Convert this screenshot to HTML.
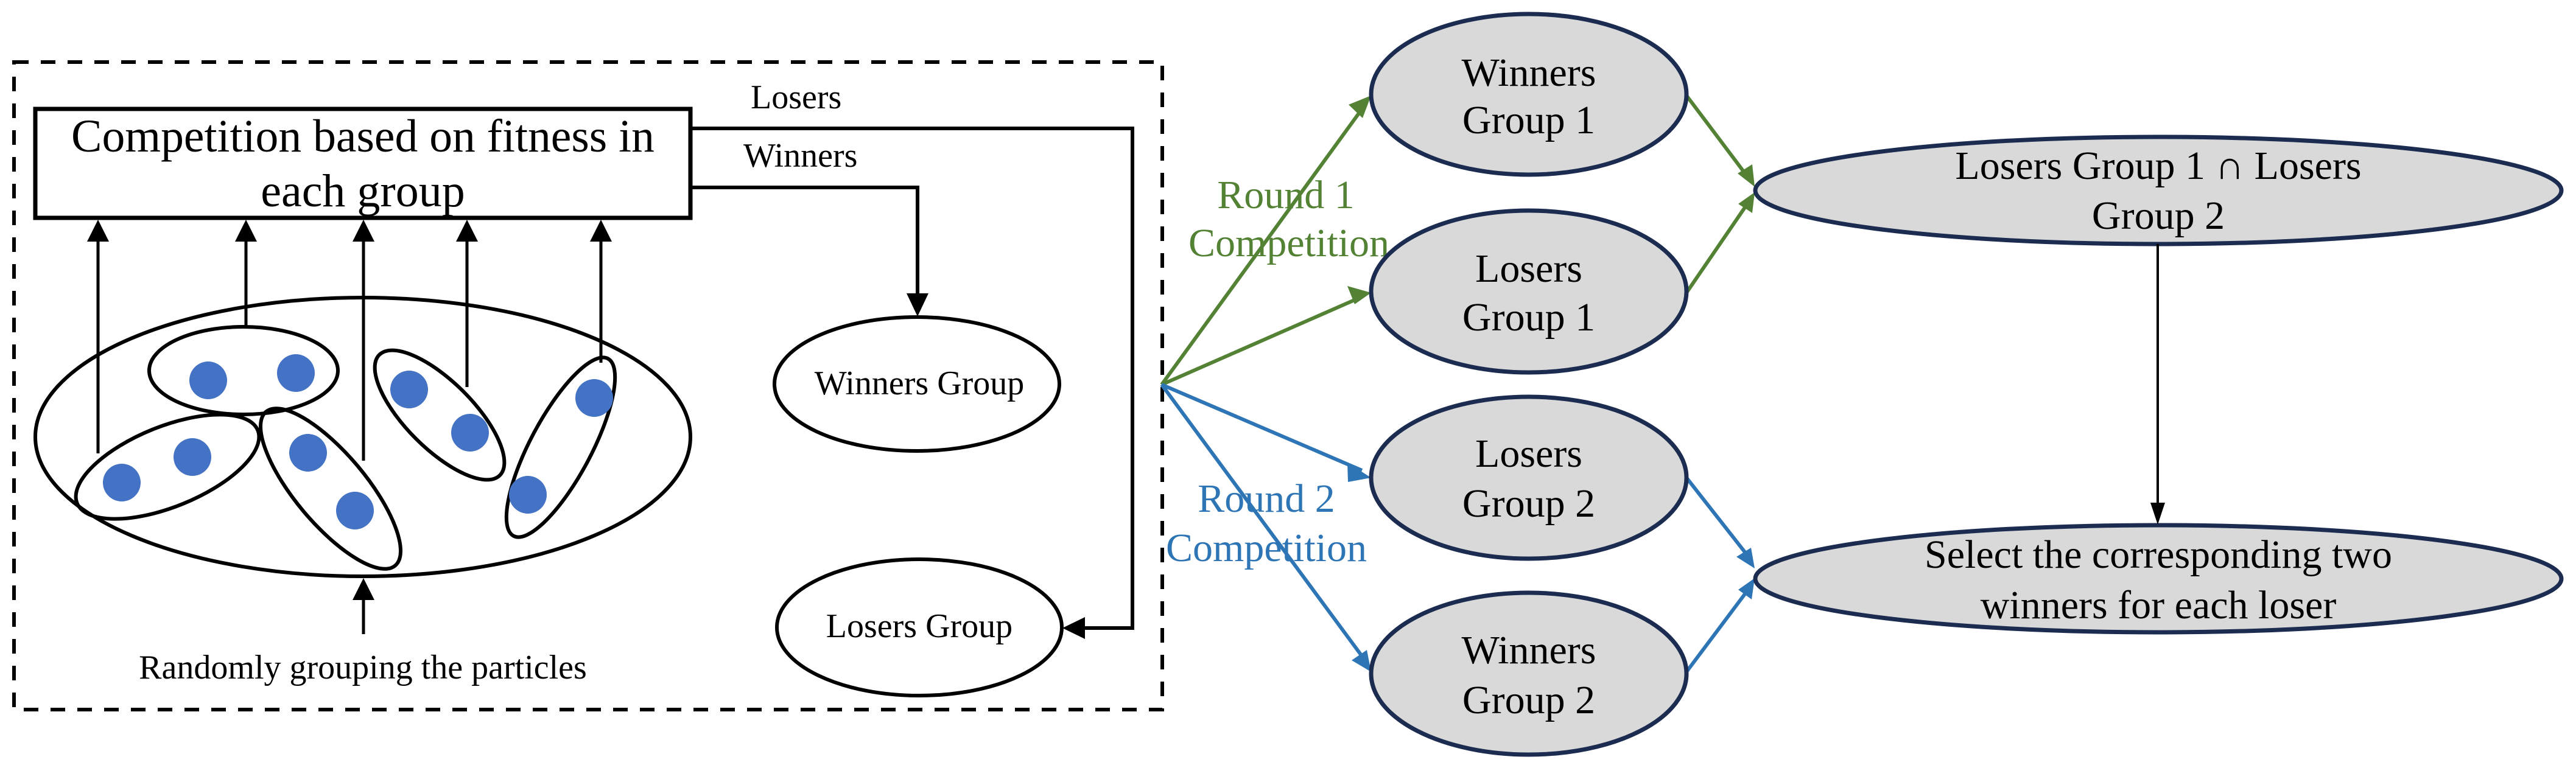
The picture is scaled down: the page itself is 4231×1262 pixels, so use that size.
<!DOCTYPE html>
<html><head><meta charset="utf-8"><style>html,body{margin:0;padding:0;background:#fff}svg{display:block}</style></head><body>
<svg width="4231" height="1262" viewBox="0 0 4231 1262" xmlns="http://www.w3.org/2000/svg" font-family="'Liberation Serif', serif">
<rect x="0" y="0" width="4231" height="1262" fill="#fff"/>
<!-- dashed box -->
<rect x="23" y="102" width="1886" height="1064" fill="none" stroke="#000" stroke-width="6" stroke-dasharray="24 20"/>
<!-- competition box -->
<rect x="58" y="179" width="1076" height="179" fill="#fff" stroke="#000" stroke-width="7"/>
<text x="596" y="249" font-size="76" text-anchor="middle" textLength="958" lengthAdjust="spacingAndGlyphs">Competition based on fitness in</text>
<text x="596" y="339" font-size="76" text-anchor="middle">each group</text>
<!-- Losers line -->
<polyline points="1134,211 1860,211 1860,1032 1780,1032" fill="none" stroke="#000" stroke-width="6"/>
<polygon points="1745,1032 1782,1014 1782,1050" fill="#000"/>
<text x="1233" y="178" font-size="56">Losers</text>
<!-- Winners line -->
<polyline points="1134,308 1507,308 1507,485" fill="none" stroke="#000" stroke-width="6"/>
<polygon points="1507,520 1489,482 1525,482" fill="#000"/>
<text x="1221" y="274" font-size="56">Winners</text>
<!-- output ellipses -->
<ellipse cx="1506" cy="631" rx="234" ry="110" fill="#fff" stroke="#000" stroke-width="6"/>
<text x="1510" y="648" font-size="56" text-anchor="middle">Winners Group</text>
<ellipse cx="1510" cy="1031" rx="234" ry="112" fill="#fff" stroke="#000" stroke-width="6"/>
<text x="1510" y="1047" font-size="56" text-anchor="middle">Losers Group</text>
<!-- big ellipse -->
<ellipse cx="596" cy="718" rx="538" ry="229" fill="#fff" stroke="#000" stroke-width="6"/>
<!-- small groups -->
<g fill="none" stroke="#000" stroke-width="6">
<ellipse cx="400" cy="609" rx="155" ry="72"/>
<ellipse cx="275" cy="767" rx="160" ry="66" transform="rotate(-22 275 767)"/>
<ellipse cx="543" cy="803" rx="165" ry="58" transform="rotate(50 543 803)"/>
<ellipse cx="722" cy="682" rx="140" ry="55" transform="rotate(45 722 682)"/>
<ellipse cx="921" cy="735" rx="165" ry="50" transform="rotate(-62 921 735)"/>
</g>
<g fill="#4472c4">
<ellipse cx="342" cy="625" rx="31" ry="31"/>
<ellipse cx="486" cy="613" rx="31" ry="31"/>
<ellipse cx="200" cy="793" rx="31" ry="31"/>
<ellipse cx="316" cy="751" rx="31" ry="31"/>
<ellipse cx="506" cy="744" rx="31" ry="31"/>
<ellipse cx="583" cy="839" rx="31" ry="31"/>
<ellipse cx="672" cy="640" rx="31" ry="31"/>
<ellipse cx="772" cy="711" rx="31" ry="31"/>
<ellipse cx="976" cy="654" rx="31" ry="31"/>
<ellipse cx="867" cy="813" rx="31" ry="31"/>
</g>
<!-- up arrows -->
<g stroke="#000" stroke-width="5">
<line x1="161" y1="745" x2="161" y2="390"/>
<line x1="404" y1="538" x2="404" y2="390"/>
<line x1="597" y1="757" x2="597" y2="390"/>
<line x1="767" y1="636" x2="767" y2="390"/>
<line x1="987" y1="596" x2="987" y2="390"/>
<line x1="597" y1="1042" x2="597" y2="980"/>
</g>
<g fill="#000">
<polygon points="161,361 143,397 179,397"/>
<polygon points="404,361 386,397 422,397"/>
<polygon points="597,361 579,397 615,397"/>
<polygon points="767,361 749,397 785,397"/>
<polygon points="987,361 969,397 1005,397"/>
<polygon points="597,950 579,986 615,986"/>
</g>
<text x="596" y="1115" font-size="56" text-anchor="middle">Randomly grouping the particles</text>

<!-- right side connectors -->
<g stroke="#548235" stroke-width="6" fill="none">
<line x1="1908" y1="632" x2="2240" y2="175"/>
<line x1="1908" y1="632" x2="2236" y2="488"/>
<line x1="2770" y1="157" x2="2870" y2="290"/>
<line x1="2770" y1="481" x2="2872" y2="332"/>
</g>
<g fill="#548235">
<polygon points="2252,157 2215,172 2238,194"/>
<polygon points="2252,481 2213,470 2225,500"/>
<polygon points="2882,307 2854,285 2878,270"/>
<polygon points="2882,316 2878,350 2855,335"/>
</g>
<g stroke="#2e75b6" stroke-width="6" fill="none">
<line x1="1908" y1="632" x2="2237" y2="773"/>
<line x1="1908" y1="632" x2="2242" y2="1085"/>
<line x1="2770" y1="785" x2="2872" y2="915"/>
<line x1="2770" y1="1104" x2="2872" y2="968"/>
</g>
<g fill="#2e75b6">
<polygon points="2252,785 2213,760 2214,792"/>
<polygon points="2252,1104 2220,1085 2245,1068"/>
<polygon points="2882,934 2852,915 2876,900"/>
<polygon points="2882,950 2877,985 2855,969"/>
</g>
<text x="2112" y="342" font-size="66" fill="#548235" text-anchor="middle">Round 1</text>
<text x="2117" y="421" font-size="66" fill="#548235" text-anchor="middle">Competition</text>
<text x="2080" y="841" font-size="66" fill="#2e75b6" text-anchor="middle">Round 2</text>
<text x="2080" y="922" font-size="66" fill="#2e75b6" text-anchor="middle">Competition</text>

<!-- right circles -->
<g fill="#d9d9d9" stroke="#1b2c50" stroke-width="7">
<ellipse cx="2511" cy="155" rx="259" ry="132"/>
<ellipse cx="2511" cy="479" rx="259" ry="133"/>
<ellipse cx="2511" cy="785" rx="259" ry="133"/>
<ellipse cx="2511" cy="1107" rx="259" ry="133"/>
<ellipse cx="3545" cy="313" rx="662" ry="88"/>
<ellipse cx="3545" cy="951" rx="662" ry="88"/>
</g>
<line x1="3544" y1="401" x2="3544" y2="830" stroke="#000" stroke-width="4"/>
<polygon points="3544,862 3532,826 3556,826" fill="#000"/>
<g font-size="66" text-anchor="middle" fill="#000">
<text x="2511" y="141">Winners</text><text x="2511" y="219">Group 1</text>
<text x="2511" y="463">Losers</text><text x="2511" y="543">Group 1</text>
<text x="2511" y="767">Losers</text><text x="2511" y="849">Group 2</text>
<text x="2511" y="1090">Winners</text><text x="2511" y="1172">Group 2</text>
<text x="3545" y="294">Losers Group 1 ∩ Losers</text><text x="3545" y="376">Group 2</text>
<text x="3545" y="933">Select the corresponding two</text><text x="3545" y="1016">winners for each loser</text>
</g>
</svg>
</body></html>
